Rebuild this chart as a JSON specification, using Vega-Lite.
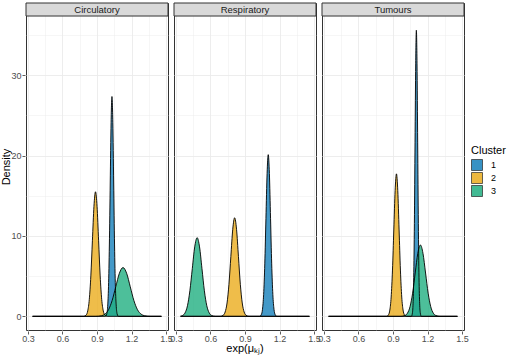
{
  "$schema": "https://vega.github.io/schema/vega-lite/v6.json",
  "background": "white",
  "padding": {"left": 0, "top": 2, "right": 5, "bottom": 2},
  "data": {
    "values": [
      {"panel":"Circulatory","cluster":"1","x":0.34,"density":0},
      {"panel":"Circulatory","cluster":"1","x":0.974,"density":0},
      {"panel":"Circulatory","cluster":"1","x":0.985,"density":0.30},
      {"panel":"Circulatory","cluster":"1","x":0.9925,"density":1.20},
      {"panel":"Circulatory","cluster":"1","x":1.000,"density":3.70},
      {"panel":"Circulatory","cluster":"1","x":1.0075,"density":8.88},
      {"panel":"Circulatory","cluster":"1","x":1.015,"density":16.59},
      {"panel":"Circulatory","cluster":"1","x":1.0225,"density":24.14},
      {"panel":"Circulatory","cluster":"1","x":1.030,"density":27.35},
      {"panel":"Circulatory","cluster":"1","x":1.0375,"density":24.14},
      {"panel":"Circulatory","cluster":"1","x":1.045,"density":16.59},
      {"panel":"Circulatory","cluster":"1","x":1.0525,"density":8.88},
      {"panel":"Circulatory","cluster":"1","x":1.060,"density":3.70},
      {"panel":"Circulatory","cluster":"1","x":1.0675,"density":1.20},
      {"panel":"Circulatory","cluster":"1","x":1.075,"density":0.30},
      {"panel":"Circulatory","cluster":"1","x":1.086,"density":0},
      {"panel":"Circulatory","cluster":"1","x":1.46,"density":0},

      {"panel":"Circulatory","cluster":"2","x":0.34,"density":0},
      {"panel":"Circulatory","cluster":"2","x":0.786,"density":0},
      {"panel":"Circulatory","cluster":"2","x":0.806,"density":0.17},
      {"panel":"Circulatory","cluster":"2","x":0.8195,"density":0.68},
      {"panel":"Circulatory","cluster":"2","x":0.833,"density":2.10},
      {"panel":"Circulatory","cluster":"2","x":0.8465,"density":5.03},
      {"panel":"Circulatory","cluster":"2","x":0.860,"density":9.40},
      {"panel":"Circulatory","cluster":"2","x":0.8735,"density":13.68},
      {"panel":"Circulatory","cluster":"2","x":0.887,"density":15.5},
      {"panel":"Circulatory","cluster":"2","x":0.9005,"density":13.68},
      {"panel":"Circulatory","cluster":"2","x":0.914,"density":9.40},
      {"panel":"Circulatory","cluster":"2","x":0.9275,"density":5.03},
      {"panel":"Circulatory","cluster":"2","x":0.941,"density":2.10},
      {"panel":"Circulatory","cluster":"2","x":0.9545,"density":0.68},
      {"panel":"Circulatory","cluster":"2","x":0.968,"density":0.17},
      {"panel":"Circulatory","cluster":"2","x":0.988,"density":0},
      {"panel":"Circulatory","cluster":"2","x":1.46,"density":0},

      {"panel":"Circulatory","cluster":"3","x":0.34,"density":0},
      {"panel":"Circulatory","cluster":"3","x":0.890,"density":0},
      {"panel":"Circulatory","cluster":"3","x":0.937,"density":0.07},
      {"panel":"Circulatory","cluster":"3","x":0.9685,"density":0.27},
      {"panel":"Circulatory","cluster":"3","x":1.000,"density":0.82},
      {"panel":"Circulatory","cluster":"3","x":1.0315,"density":1.97},
      {"panel":"Circulatory","cluster":"3","x":1.063,"density":3.68},
      {"panel":"Circulatory","cluster":"3","x":1.0945,"density":5.36},
      {"panel":"Circulatory","cluster":"3","x":1.126,"density":6.07},
      {"panel":"Circulatory","cluster":"3","x":1.1575,"density":5.36},
      {"panel":"Circulatory","cluster":"3","x":1.189,"density":3.68},
      {"panel":"Circulatory","cluster":"3","x":1.2205,"density":1.97},
      {"panel":"Circulatory","cluster":"3","x":1.252,"density":0.82},
      {"panel":"Circulatory","cluster":"3","x":1.2835,"density":0.27},
      {"panel":"Circulatory","cluster":"3","x":1.315,"density":0.07},
      {"panel":"Circulatory","cluster":"3","x":1.362,"density":0},
      {"panel":"Circulatory","cluster":"3","x":1.46,"density":0},

      {"panel":"Respiratory","cluster":"1","x":0.34,"density":0},
      {"panel":"Respiratory","cluster":"1","x":1.027,"density":0},
      {"panel":"Respiratory","cluster":"1","x":1.042,"density":0.22},
      {"panel":"Respiratory","cluster":"1","x":1.052,"density":0.88},
      {"panel":"Respiratory","cluster":"1","x":1.062,"density":2.72},
      {"panel":"Respiratory","cluster":"1","x":1.072,"density":6.53},
      {"panel":"Respiratory","cluster":"1","x":1.082,"density":12.20},
      {"panel":"Respiratory","cluster":"1","x":1.092,"density":17.76},
      {"panel":"Respiratory","cluster":"1","x":1.102,"density":20.12},
      {"panel":"Respiratory","cluster":"1","x":1.112,"density":17.76},
      {"panel":"Respiratory","cluster":"1","x":1.122,"density":12.20},
      {"panel":"Respiratory","cluster":"1","x":1.132,"density":6.53},
      {"panel":"Respiratory","cluster":"1","x":1.142,"density":2.72},
      {"panel":"Respiratory","cluster":"1","x":1.152,"density":0.88},
      {"panel":"Respiratory","cluster":"1","x":1.162,"density":0.22},
      {"panel":"Respiratory","cluster":"1","x":1.177,"density":0},
      {"panel":"Respiratory","cluster":"1","x":1.46,"density":0},

      {"panel":"Respiratory","cluster":"2","x":0.34,"density":0},
      {"panel":"Respiratory","cluster":"2","x":0.686,"density":0},
      {"panel":"Respiratory","cluster":"2","x":0.711,"density":0.14},
      {"panel":"Respiratory","cluster":"2","x":0.7275,"density":0.54},
      {"panel":"Respiratory","cluster":"2","x":0.744,"density":1.66},
      {"panel":"Respiratory","cluster":"2","x":0.7605,"density":3.98},
      {"panel":"Respiratory","cluster":"2","x":0.777,"density":7.44},
      {"panel":"Respiratory","cluster":"2","x":0.7935,"density":10.83},
      {"panel":"Respiratory","cluster":"2","x":0.810,"density":12.27},
      {"panel":"Respiratory","cluster":"2","x":0.8265,"density":10.83},
      {"panel":"Respiratory","cluster":"2","x":0.843,"density":7.44},
      {"panel":"Respiratory","cluster":"2","x":0.8595,"density":3.98},
      {"panel":"Respiratory","cluster":"2","x":0.876,"density":1.66},
      {"panel":"Respiratory","cluster":"2","x":0.8925,"density":0.54},
      {"panel":"Respiratory","cluster":"2","x":0.909,"density":0.14},
      {"panel":"Respiratory","cluster":"2","x":0.934,"density":0},
      {"panel":"Respiratory","cluster":"2","x":1.46,"density":0},

      {"panel":"Respiratory","cluster":"3","x":0.34,"density":0.03},
      {"panel":"Respiratory","cluster":"3","x":0.358,"density":0.11},
      {"panel":"Respiratory","cluster":"3","x":0.379,"density":0.43},
      {"panel":"Respiratory","cluster":"3","x":0.400,"density":1.32},
      {"panel":"Respiratory","cluster":"3","x":0.421,"density":3.18},
      {"panel":"Respiratory","cluster":"3","x":0.442,"density":5.94},
      {"panel":"Respiratory","cluster":"3","x":0.463,"density":8.64},
      {"panel":"Respiratory","cluster":"3","x":0.484,"density":9.79},
      {"panel":"Respiratory","cluster":"3","x":0.505,"density":8.64},
      {"panel":"Respiratory","cluster":"3","x":0.526,"density":5.94},
      {"panel":"Respiratory","cluster":"3","x":0.547,"density":3.18},
      {"panel":"Respiratory","cluster":"3","x":0.568,"density":1.32},
      {"panel":"Respiratory","cluster":"3","x":0.589,"density":0.43},
      {"panel":"Respiratory","cluster":"3","x":0.610,"density":0.11},
      {"panel":"Respiratory","cluster":"3","x":0.6415,"density":0},
      {"panel":"Respiratory","cluster":"3","x":1.46,"density":0},

      {"panel":"Tumours","cluster":"1","x":0.34,"density":0},
      {"panel":"Tumours","cluster":"1","x":1.060,"density":0},
      {"panel":"Tumours","cluster":"1","x":1.0685,"density":0.40},
      {"panel":"Tumours","cluster":"1","x":1.0743,"density":1.56},
      {"panel":"Tumours","cluster":"1","x":1.080,"density":4.82},
      {"panel":"Tumours","cluster":"1","x":1.0858,"density":11.56},
      {"panel":"Tumours","cluster":"1","x":1.0915,"density":21.59},
      {"panel":"Tumours","cluster":"1","x":1.0973,"density":31.42},
      {"panel":"Tumours","cluster":"1","x":1.103,"density":35.6},
      {"panel":"Tumours","cluster":"1","x":1.1088,"density":31.42},
      {"panel":"Tumours","cluster":"1","x":1.1145,"density":21.59},
      {"panel":"Tumours","cluster":"1","x":1.1203,"density":11.56},
      {"panel":"Tumours","cluster":"1","x":1.126,"density":4.82},
      {"panel":"Tumours","cluster":"1","x":1.1318,"density":1.56},
      {"panel":"Tumours","cluster":"1","x":1.1375,"density":0.40},
      {"panel":"Tumours","cluster":"1","x":1.146,"density":0},
      {"panel":"Tumours","cluster":"1","x":1.46,"density":0},

      {"panel":"Tumours","cluster":"2","x":0.34,"density":0},
      {"panel":"Tumours","cluster":"2","x":0.844,"density":0},
      {"panel":"Tumours","cluster":"2","x":0.861,"density":0.20},
      {"panel":"Tumours","cluster":"2","x":0.8725,"density":0.78},
      {"panel":"Tumours","cluster":"2","x":0.884,"density":2.40},
      {"panel":"Tumours","cluster":"2","x":0.8955,"density":5.76},
      {"panel":"Tumours","cluster":"2","x":0.907,"density":10.75},
      {"panel":"Tumours","cluster":"2","x":0.9185,"density":15.65},
      {"panel":"Tumours","cluster":"2","x":0.930,"density":17.73},
      {"panel":"Tumours","cluster":"2","x":0.9415,"density":15.65},
      {"panel":"Tumours","cluster":"2","x":0.953,"density":10.75},
      {"panel":"Tumours","cluster":"2","x":0.9645,"density":5.76},
      {"panel":"Tumours","cluster":"2","x":0.976,"density":2.40},
      {"panel":"Tumours","cluster":"2","x":0.9875,"density":0.78},
      {"panel":"Tumours","cluster":"2","x":0.999,"density":0.20},
      {"panel":"Tumours","cluster":"2","x":1.016,"density":0},
      {"panel":"Tumours","cluster":"2","x":1.46,"density":0},

      {"panel":"Tumours","cluster":"3","x":0.34,"density":0},
      {"panel":"Tumours","cluster":"3","x":0.969,"density":0},
      {"panel":"Tumours","cluster":"3","x":1.003,"density":0.10},
      {"panel":"Tumours","cluster":"3","x":1.0255,"density":0.39},
      {"panel":"Tumours","cluster":"3","x":1.048,"density":1.20},
      {"panel":"Tumours","cluster":"3","x":1.0705,"density":2.88},
      {"panel":"Tumours","cluster":"3","x":1.093,"density":5.39},
      {"panel":"Tumours","cluster":"3","x":1.1155,"density":7.84},
      {"panel":"Tumours","cluster":"3","x":1.138,"density":8.88},
      {"panel":"Tumours","cluster":"3","x":1.1605,"density":7.84},
      {"panel":"Tumours","cluster":"3","x":1.183,"density":5.39},
      {"panel":"Tumours","cluster":"3","x":1.2055,"density":2.88},
      {"panel":"Tumours","cluster":"3","x":1.228,"density":1.20},
      {"panel":"Tumours","cluster":"3","x":1.2505,"density":0.39},
      {"panel":"Tumours","cluster":"3","x":1.273,"density":0.10},
      {"panel":"Tumours","cluster":"3","x":1.307,"density":0},
      {"panel":"Tumours","cluster":"3","x":1.46,"density":0}
    ]
  },
  "facet": {
    "column": {"field": "panel", "type": "nominal", "sort": ["Circulatory", "Respiratory", "Tumours"],
      "header": {"title": "exp(μₖⱼ)", "titleOrient": "bottom", "titleFont": "Liberation Sans", "titleFontSize": 11,
        "titleFontWeight": "normal", "titleColor": "#000000", "titlePadding": -10, "labels": false}}
  },
  "spacing": 4,
  "spec": {
    "width": 142,
    "height": 327,
    "view": {"stroke": "#333333", "strokeWidth": 1},
    "encoding": {
      "x": {"field": "x", "type": "quantitative",
        "scale": {"domain": [0.283, 1.517], "nice": false, "zero": false},
        "axis": {"values": [0.3, 0.45, 0.6, 0.75, 0.9, 1.05, 1.2, 1.35, 1.5], "format": ".1f", "title": null, "labelPadding": 0,
          "labelExpr": "round(datum.value*100) % 30 === 0 ? datum.label : ''",
          "tickOpacity": {"condition": {"test": "round(datum.value*100) % 30 !== 0", "value": 0}, "value": 1},
          "gridWidth": {"condition": {"test": "round(datum.value*100) % 30 !== 0", "value": 0.45}, "value": 0.9}}},
      "y": {"field": "density", "type": "quantitative", "stack": null,
        "scale": {"domain": [-1.7, 38.99], "nice": false, "zero": false},
        "axis": {"values": [0, 5, 10, 15, 20, 25, 30, 35], "title": "Density",
          "labelExpr": "datum.value % 10 === 0 ? datum.label : ''",
          "tickOpacity": {"condition": {"test": "datum.value % 10 !== 0", "value": 0}, "value": 1},
          "gridWidth": {"condition": {"test": "datum.value % 10 !== 0", "value": 0.45}, "value": 0.9}}}
    },
    "layer": [
      {"mark": {"type": "area", "interpolate": "monotone", "fillOpacity": 0.8},
        "encoding": {"color": {"field": "cluster", "type": "nominal",
          "scale": {"domain": ["1", "2", "3"], "range": ["#157FBA", "#EBAC1D", "#20AF81"]},
          "legend": {"title": "Cluster", "orient": "none", "legendX": 445, "legendY": 142}}}},
      {"mark": {"type": "line", "interpolate": "monotone", "color": "black", "strokeWidth": 0.9},
        "encoding": {"detail": {"field": "cluster"}}},
      {"transform": [{"filter": "datum.cluster === '1' && datum.x < 0.35"}],
        "mark": {"type": "rect", "fill": "#D9D9D9", "stroke": "#333333", "strokeWidth": 1},
        "encoding": {"x": {"datum": 0.283, "type": "quantitative"}, "x2": {"datum": 1.517}, "y": {"datum": 37.37, "type": "quantitative"}, "y2": {"datum": 38.99}}},
      {"transform": [{"filter": "datum.cluster === '1' && datum.x < 0.35"}],
        "mark": {"type": "text", "font": "Liberation Sans", "fontSize": 9.5, "color": "#1A1A1A", "baseline": "middle", "align": "center"},
        "encoding": {"x": {"datum": 0.9, "type": "quantitative"}, "y": {"datum": 38.18, "type": "quantitative"}, "text": {"field": "panel", "type": "nominal"}}}
    ]
  },
  "config": {
    "font": "Liberation Sans",
    "axis": {
      "domain": false, "gridColor": "#EBEBEB", "tickColor": "#333333", "tickSize": 3, "tickWidth": 0.8,
      "labelColor": "#4D4D4D", "labelFont": "Liberation Sans", "labelFontSize": 9, "labelPadding": 1,
      "labelFlush": false, "labelOverlap": false,
      "titleFont": "Liberation Sans", "titleFontSize": 11, "titleFontWeight": "normal", "titleColor": "#000000"
    },
    "axisY": {"titlePadding": -1},
    "legend": {
      "titleFont": "Liberation Sans", "titleFontSize": 11, "titleFontWeight": "normal", "titleColor": "#000000", "titlePadding": 3,
      "labelFont": "Liberation Sans", "labelFontSize": 9, "labelColor": "#000000",
      "symbolType": "square", "symbolSize": 121, "symbolStrokeColor": "#000000", "symbolStrokeWidth": 0.7,
      "symbolOpacity": 0.85, "rowPadding": -4, "labelOffset": 8
    }
  }
}
